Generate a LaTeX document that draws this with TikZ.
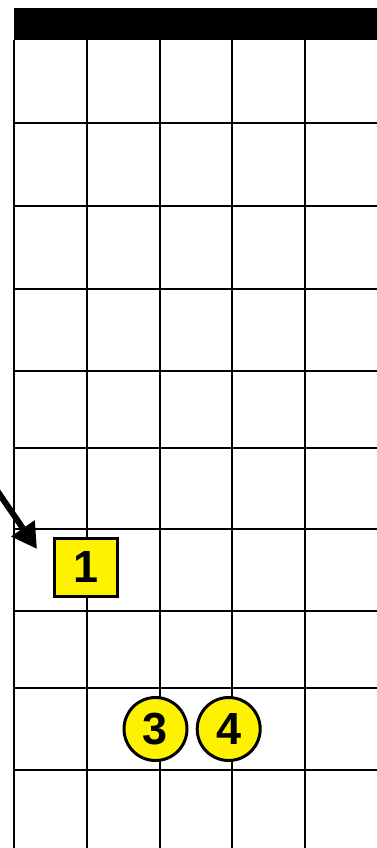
\documentclass[tikz,border=0pt]{standalone}
\usepackage{fontspec}
\setmainfont{Liberation Sans}[BoldFont={Liberation Sans Bold}]
\usetikzlibrary{arrows.meta}
\tikzset{
  gridline/.style={line width=2pt, black},
  fingersq/.style={draw=black, line width=3pt, fill=yellow, minimum width=63pt, minimum height=58pt, inner sep=0pt, font=\bfseries\fontsize{45}{45}\selectfont},
  fingercirc/.style={circle, draw=black, line width=3pt, fill=yellow, minimum size=63pt, inner sep=0pt, font=\bfseries\fontsize{45}{45}\selectfont},
  pointer/.style={line width=6pt, -{Triangle[length=25pt,width=27pt]}}
}
\begin{document}
\begin{tikzpicture}[x=1pt,y=-1pt]
\useasboundingbox (0,0) rectangle (377,848);
\clip (0,0) rectangle (377,848);
\fill[white] (0,0) rectangle (377,848);
% nut
\fill[black] (14,8) rectangle (380,40);
% strings
\foreach \x in {14,87,160,232,305,377.5}
  \draw[gridline] (\x,40) -- (\x,850);
% frets
\foreach \y in {123,206,289,371,448,529,611,688,770}
  \draw[gridline] (14,\y) -- (380,\y);
% fingers
\node[fingersq] (f1) at (86,567.5) {1};
\node[fingercirc] (f3) at (155.5,729) {3};
\node[fingercirc] (f4) at (228.7,729) {4};
% pointer arrow
\coordinate (ps) at (-4,489);
\coordinate (pe) at (37,549);
\draw[pointer] (ps) -- (pe);
\end{tikzpicture}
\end{document}
